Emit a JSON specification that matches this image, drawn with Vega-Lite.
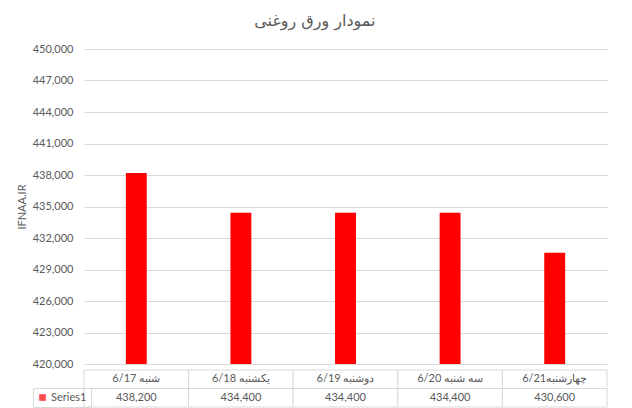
{
  "$schema": "https://vega.github.io/schema/vega-lite/v6.json",
  "padding": {"left": 16, "top": 13, "right": 5, "bottom": 5},
  "background": "white",
  "title": {"text": "نمودار ورق روغنی", "fontSize": 16, "fontWeight": "normal", "color": "#595959", "font": "DejaVu Sans", "anchor": "middle", "offset": 14, "dx": 3},
  "datasets": {
    "prices": [
      {"day": "6/17 شنبه", "price": 438200},
      {"day": "6/18 یکشنبه", "price": 434400},
      {"day": "6/19 دوشنبه", "price": 434400},
      {"day": "6/20 سه شنبه", "price": 434400},
      {"day": "6/21چهارشنبه", "price": 430600}
    ]
  },
  "data": {"name": "prices"},
  "spacing": 0,
  "resolve": {"legend": {"color": "independent"}, "scale": {"color": "independent"}},
  "vconcat": [
    {
      "width": 523,
      "height": 315,
      "mark": {"type": "bar", "color": "#ff0000"},
      "encoding": {
        "x": {"field": "day", "type": "nominal", "sort": null, "scale": {"paddingInner": 0.8, "paddingOuter": 0.4}, "axis": null},
        "y": {
          "field": "price", "type": "quantitative",
          "scale": {"domain": [420000, 450000], "zero": false, "nice": false},
          "axis": {
            "values": [420000, 423000, 426000, 429000, 432000, 435000, 438000, 441000, 444000, 447000, 450000],
            "format": ",d", "title": "IFNAA.IR", "grid": true, "gridColor": "#d9d9d9", "domain": false, "ticks": false,
            "labelPadding": 11, "labelColor": "#595959", "labelFontSize": 11, "labelFont": "Lato",
            "titleColor": "#595959", "titleFontSize": 11, "titleFontWeight": "normal", "titleFont": "Lato", "titlePadding": 5
          }
        },
        "y2": {"datum": 420000}
      }
    },
    {
      "width": 523,
      "height": 37,
      "encoding": {
        "x": {"field": "day", "type": "nominal", "sort": null, "scale": {"paddingInner": 0, "paddingOuter": 0}, "axis": null}
      },
      "layer": [
        {
          "mark": {"type": "rect", "fill": "white", "stroke": "#d9d9d9", "strokeWidth": 1},
          "encoding": {"y": {"datum": "cat", "type": "nominal", "scale": {"domain": ["cat", "val"], "paddingInner": 0, "paddingOuter": 0}, "axis": null}}
        },
        {
          "mark": {"type": "rect", "fill": "white", "stroke": "#d9d9d9", "strokeWidth": 1},
          "encoding": {"y": {"datum": "val", "type": "nominal"}}
        },
        {
          "mark": {"type": "text", "fontSize": 11, "color": "#595959", "font": "Lato", "baseline": "middle"},
          "encoding": {"y": {"datum": "cat", "type": "nominal"}, "text": {"field": "day"}}
        },
        {
          "mark": {"type": "text", "fontSize": 11, "color": "#595959", "font": "Lato", "baseline": "middle"},
          "encoding": {"y": {"datum": "val", "type": "nominal"}, "text": {"field": "price", "format": ",d"}}
        },
        {
          "data": {"values": []},
          "mark": {"type": "square", "filled": true},
          "encoding": {
            "color": {
              "datum": "Series1",
              "scale": {"range": ["#ff0000"]},
              "legend": {
                "orient": "none", "legendX": -51, "legendY": 18, "title": null,
                "symbolType": "square", "symbolSize": 45, "symbolStrokeWidth": 0,
                "labelFontSize": 11, "labelColor": "#595959", "labelFont": "Lato",
                "strokeColor": "#d9d9d9", "padding": 4, "labelOffset": 3
              }
            }
          }
        }
      ]
    }
  ],
  "config": {"view": {"stroke": null}}
}
